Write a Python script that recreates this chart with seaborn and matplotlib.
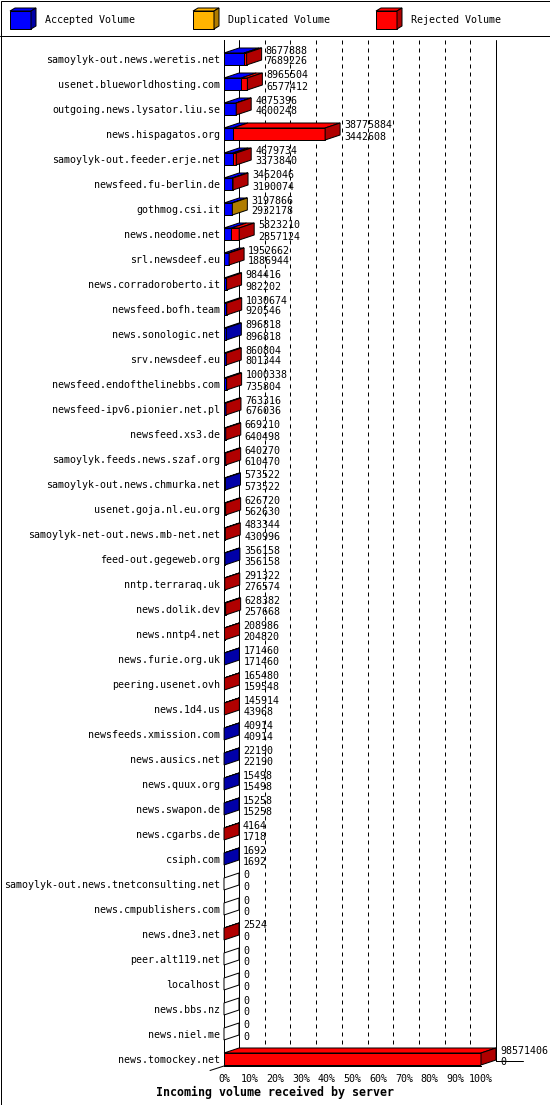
import numpy as np
import pandas as pd
import matplotlib
matplotlib.use("Agg")
import matplotlib.pyplot as plt
from matplotlib.patches import Polygon, Rectangle
import seaborn as sns

# incoming volume per server (bytes)
servers = [
    "samoylyk-out.news.weretis.net", "usenet.blueworldhosting.com",
    "outgoing.news.lysator.liu.se", "news.hispagatos.org",
    "samoylyk-out.feeder.erje.net", "newsfeed.fu-berlin.de",
    "gothmog.csi.it", "news.neodome.net", "srl.newsdeef.eu",
    "news.corradoroberto.it", "newsfeed.bofh.team", "news.sonologic.net",
    "srv.newsdeef.eu", "newsfeed.endofthelinebbs.com",
    "newsfeed-ipv6.pionier.net.pl", "newsfeed.xs3.de",
    "samoylyk.feeds.news.szaf.org", "samoylyk-out.news.chmurka.net",
    "usenet.goja.nl.eu.org", "samoylyk-net-out.news.mb-net.net",
    "feed-out.gegeweb.org", "nntp.terraraq.uk", "news.dolik.dev",
    "news.nntp4.net", "news.furie.org.uk", "peering.usenet.ovh",
    "news.1d4.us", "newsfeeds.xmission.com", "news.ausics.net",
    "news.quux.org", "news.swapon.de", "news.cgarbs.de", "csiph.com",
    "samoylyk-out.news.tnetconsulting.net", "news.cmpublishers.com",
    "news.dne3.net", "peer.alt119.net", "localhost", "news.bbs.nz",
    "news.niel.me", "news.tomockey.net",
]
total_volume = [
    8677888, 8965504, 4675396, 38775884, 4679734, 3462046, 3197866, 5823210,
    1952662, 984416, 1030674, 896818, 860804, 1000338, 763316, 669210,
    640270, 573522, 626720, 483344, 356158, 291322, 628382, 208986,
    171460, 165480, 145914, 40914, 22190, 15498, 15258, 4164, 1692,
    0, 0, 2524, 0, 0, 0, 0, 98571406,
]
accepted_volume = [
    7689226, 6577412, 4600248, 3442608, 3373840, 3190074, 2932178, 2857124,
    1886944, 982202, 920546, 896818, 801344, 735804, 676036, 640498,
    610470, 573522, 562630, 430996, 356158, 276574, 257668, 204820,
    171460, 159548, 43968, 40914, 22190, 15498, 15258, 1718, 1692,
    0, 0, 0, 0, 0, 0, 0, 0,
]
duplicated_volume = [
    0, 0, 0, 0, 0, 0, 265688, 0, 0, 0, 0, 0, 0, 0, 0, 0, 0, 0, 0, 0, 0,
    0, 0, 0, 0, 0, 0, 0, 0, 0, 0, 0, 0, 0, 0, 0, 0, 0, 0, 0, 0,
]
legend_labels = ["Accepted Volume", "Duplicated Volume", "Rejected Volume"]
tick_values = list(range(0, 101, 10))

BLUE, BLUE_DK = "#0000ff", "#0000a8"
ORANGE, ORANGE_DK = "#ffb400", "#b07c00"
RED, RED_DK = "#ff0000", "#b00000"

sns.set_style("white")
plt.rcParams["font.family"] = ["DejaVu Sans Mono"]
plt.rcParams.update({"text.color": "black", "xtick.color": "black",
                     "ytick.color": "black", "axes.edgecolor": "black"})

tot = np.array(total_volume, dtype=float)
acc = np.array(accepted_volume, dtype=float)
dup = np.array(duplicated_volume, dtype=float)
scale = 100.0 / tot.max()
df = pd.DataFrame({
    "server": servers,
    "total": tot * scale,
    "acc_dup": (acc + dup) * scale,
    "acc": acc * scale,
})

W, H = 550, 1105
X0, X1 = 224, 481        # front plane 0% / 100% in px
Y_TOP, Y_BOT = 40, 1066
ROW0, PITCH = 59, 25
LW = 0.72
FS = 7.2

fig = plt.figure(figsize=(W / 100, H / 100), dpi=100)
bg = fig.add_axes([0, 0, 1, 1], zorder=0)
bg.set_xlim(0, W)
bg.set_ylim(H, 0)
bg.axis("off")

ax = fig.add_axes([X0 / W, 1 - Y_BOT / H, (X1 - X0) / W, (Y_BOT - Y_TOP) / H], zorder=1)
ax.set_facecolor("none")

# stacked front faces: total (rejected end), accepted+duplicated, accepted
for col, colr in [("total", RED), ("acc_dup", ORANGE), ("acc", BLUE)]:
    sns.barplot(data=df, x=col, y="server", order=servers, orient="h",
                color=colr, saturation=1, width=0.48, edgecolor="black",
                linewidth=LW, errorbar=None, ax=ax, zorder=2)

ax.set_xlim(0, 100)
y_lo = (Y_TOP - ROW0) / PITCH
y_hi = (Y_BOT - ROW0) / PITCH
ax.set_ylim(y_hi, y_lo)

px_x = 100.0 / (X1 - X0)
DX = 15 * px_x
DY = 5 / PITCH
HALF = 0.24

# back wall lines
for v in tick_values:
    ls = "-" if v in (0, 100) else (0, (4, 4))
    ax.plot([v + DX, v + DX], [y_lo, y_hi - DY], color="black", lw=LW,
            ls=ls, clip_on=False, zorder=1)

# 3d top and side faces
for i in range(len(servers)):
    a = acc[i] * scale
    d = (acc[i] + dup[i]) * scale
    t = tot[i] * scale
    yt, yb = i - HALF, i + HALF
    end, side = 0.0, "white"
    for lo, hi, c, dc in [(0, a, BLUE, BLUE_DK), (a, d, ORANGE, ORANGE_DK), (d, t, RED, RED_DK)]:
        if hi > lo:
            ax.add_patch(Polygon([(lo, yt), (hi, yt), (hi + DX, yt - DY), (lo + DX, yt - DY)],
                                 closed=True, fc=c, ec="black", lw=LW, zorder=3, clip_on=False))
            end, side = hi, dc
    ax.add_patch(Polygon([(end, yt), (end + DX, yt - DY), (end + DX, yb - DY), (end, yb)],
                         closed=True, fc=side, ec="black", lw=LW, zorder=3, clip_on=False))
    tx = t + DX + 4 * px_x
    ax.text(tx, i - 8.5 / PITCH, str(total_volume[i]), ha="left", va="center",
            fontsize=FS, zorder=4, clip_on=False)
    ax.text(tx, i + 2.5 / PITCH, str(accepted_volume[i]), ha="left", va="center",
            fontsize=FS, zorder=4, clip_on=False)

ax.set_xticks(tick_values)
ax.set_xticklabels([f"{v}%" for v in tick_values])
ax.tick_params(axis="x", direction="out", length=2.9, width=LW, pad=3, labelsize=FS)
ax.tick_params(axis="y", length=0, pad=2.9, labelsize=FS)
for s in ("top", "right"):
    ax.spines[s].set_visible(False)
for s in ("left", "bottom"):
    ax.spines[s].set_linewidth(LW)
ax.set_xlabel("")
ax.set_ylabel("")

# frame, legend, title
bg.add_patch(Rectangle((0.5, 0.5), W - 1, H - 1, fill=False, ec="black", lw=LW))
bg.plot([0, W], [35.5, 35.5], color="black", lw=LW)
bg.plot([210, X0], [1070.5, Y_BOT], color="black", lw=LW)
bg.plot([496, 523], [1060.5, 1060.5], color="black", lw=LW)
for k, (lab, c, dc) in enumerate(zip(legend_labels, [BLUE, ORANGE, RED], [BLUE_DK, ORANGE_DK, RED_DK])):
    x = 10 + 183 * k
    bg.add_patch(Rectangle((x, 11), 21, 18, fc=c, ec="black", lw=LW))
    bg.add_patch(Polygon([(x, 11), (x + 21, 11), (x + 26, 8), (x + 5, 8)], closed=True,
                         fc=c, ec="black", lw=LW))
    bg.add_patch(Polygon([(x + 21, 11), (x + 26, 8), (x + 26, 26), (x + 21, 29)], closed=True,
                         fc=dc, ec="black", lw=LW))
    bg.text(x + 35, 20, lab, ha="left", va="center", fontsize=FS)

bg.text(275, 1092, "Incoming volume received by server", ha="center", va="center",
        fontsize=8.4, fontweight="bold")

fig.savefig("out.png", dpi=100, facecolor="white")
